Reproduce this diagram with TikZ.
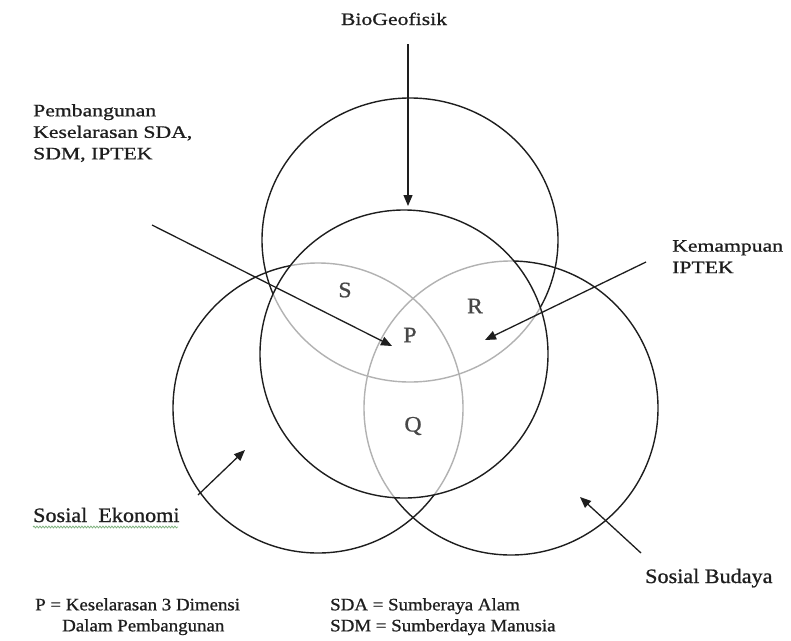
\documentclass[tikz,border=0pt]{standalone}
\usepackage{fontspec}
\setmainfont{Liberation Serif}
\newfontfamily\fwide{Liberation Serif}[FakeStretch=1.24,FakeBold=0.9]
\newfontfamily\fmid{Liberation Serif}[FakeStretch=1.08,FakeBold=0.9]
\usetikzlibrary{arrows.meta,decorations.pathmorphing}
\definecolor{ink}{HTML}{1E1E1E}
\definecolor{faint}{HTML}{B2B2B2}
\definecolor{lettr}{HTML}{474747}
\definecolor{spellgreen}{HTML}{7FB27F}
\begin{document}
\begin{tikzpicture}[x=1pt,y=-1pt,
  ringline/.style={draw=ink,line width=1.4pt},
  faintline/.style={draw=faint,line width=1.4pt},
  arr/.style={draw=ink,line width=1.3pt,-{Triangle[length=11pt,width=9pt]}},
  toplab/.style={inner sep=0pt,text=ink,font=\fwide\fontsize{17.5}{21.5}\selectfont},
  sidelab/.style={inner sep=0pt,text=ink,font=\fmid\fontsize{20.5}{24}\selectfont},
  leglab/.style={inner sep=0pt,text=ink,font=\fmid\fontsize{17.5}{21}\selectfont},
  zone/.style={inner sep=0pt,text=lettr,font=\fmid\fontsize{22}{26}\selectfont},
  spell/.style={draw=spellgreen,line width=0.8pt,decorate,decoration={snake,amplitude=0.9pt,segment length=3pt}}]
\useasboundingbox (0,0) rectangle (791,640);

% circle centres
\coordinate (cTop) at (410,240);
\coordinate (cLeft) at (318,408);
\coordinate (cRight) at (511,408);
\coordinate (cMid) at (404,354);

% outer circles
\draw[ringline] (cTop) circle[x radius=148, y radius=142];
\draw[ringline] (cLeft) circle[radius=145];
\draw[ringline] (cRight) circle[radius=147];

% faint parts inside the central circle
\begin{scope}
  \clip (cMid) circle[radius=144];
  \fill[white] (cMid) circle[radius=144];
  \draw[faintline] (cTop) circle[x radius=148, y radius=142];
  \draw[faintline] (cLeft) circle[radius=145];
  \draw[faintline] (cRight) circle[radius=147];
\end{scope}

% central circle
\draw[ringline] (cMid) circle[radius=144];

% zone letters
\node[zone] (zS) at (345,290) {S};
\node[zone] (zR) at (475,306) {R};
\node[zone] (zP) at (410,335) {P};
\node[zone] (zQ) at (413,426) {Q};

% labels
\node[toplab,anchor=base] (bio) at (394,25) {BioGeofisik};
\node[toplab,anchor=north west,align=left] (pemb) at (33,104) {Pembangunan\\Keselarasan SDA,\\SDM, IPTEK};
\node[toplab,anchor=north west,align=left] (kem) at (672,240) {Kemampuan\\IPTEK};
\node[sidelab,anchor=base west] (soe) at (33,522) {Sosial\ \ Ekonomi};
\node[sidelab,anchor=base west] (sob) at (645,583) {Sosial Budaya};
\node[leglab,anchor=north west,align=left] (legP) at (35,598) {P = Keselarasan 3 Dimensi\\\hspace*{27pt}Dalam Pembangunan};
\node[leglab,anchor=north west,align=left] (legS) at (330,598) {SDA = Sumberaya Alam\\SDM = Sumberdaya Manusia};

% spell-check underline
\coordinate (ulA) at (33,527);
\coordinate (ulB) at (178,527);
\draw[spell] (ulA) -- (ulB);

% arrows
\coordinate (bioS) at (408,44);
\coordinate (bioT) at (408,206);
\coordinate (pembS) at (152,225);
\coordinate (pembT) at (392,346);
\coordinate (kemS) at (646,262);
\coordinate (kemT) at (485,340);
\coordinate (soeS) at (198,495);
\coordinate (soeT) at (245,450);
\coordinate (sobS) at (641,553);
\coordinate (sobT) at (580,497);
\draw[arr] (bioS) -- (bioT);
\draw[arr] (pembS) -- (pembT);
\draw[arr] (kemS) -- (kemT);
\draw[arr] (soeS) -- (soeT);
\draw[arr] (sobS) -- (sobT);
\end{tikzpicture}
\end{document}
